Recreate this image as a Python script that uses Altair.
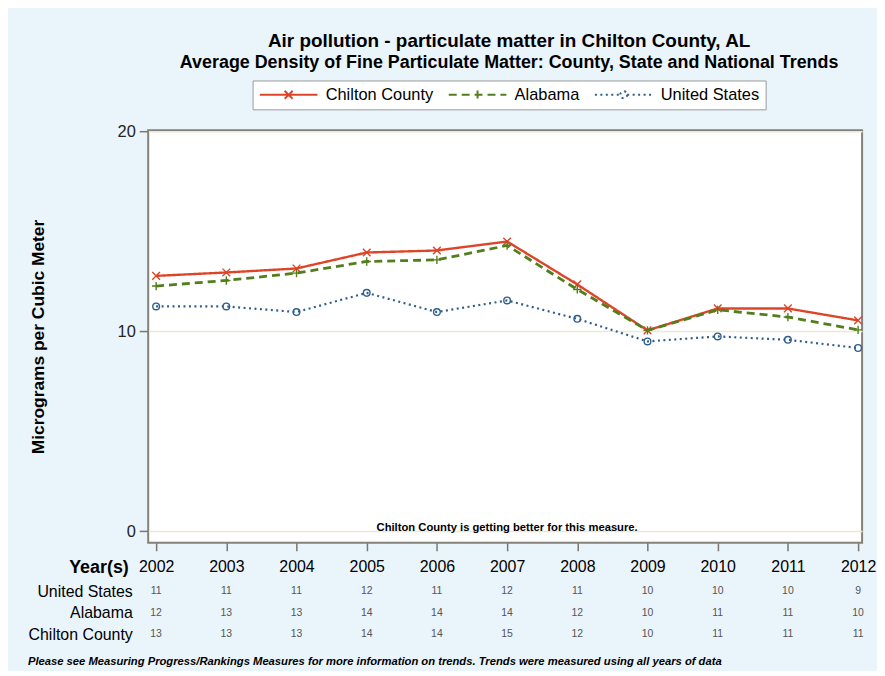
import altair as alt
import pandas as pd

years = list(range(2002, 2013))
chilton = [12.78, 12.95, 13.15, 13.95, 14.05, 14.5, 12.35, 10.05, 11.15, 11.15, 10.55]
alabama = [12.27, 12.55, 12.92, 13.5, 13.58, 14.3, 12.1, 10.05, 11.08, 10.72, 10.08]
united_states = [11.25, 11.25, 10.97, 11.93, 10.97, 11.55, 10.63, 9.5, 9.75, 9.58, 9.17]

table_us = [11, 11, 11, 12, 11, 12, 11, 10, 10, 10, 9]
table_al = [12, 13, 13, 14, 14, 14, 12, 10, 11, 11, 10]
table_ch = [13, 13, 13, 14, 14, 15, 12, 10, 11, 11, 11]

series_names = ["Chilton County", "Alabama", "United States"]
series_colors = ["#DE4528", "#527E1C", "#2F5E8C"]
series_dash = [[1, 0], [8, 5], [2, 3.5]]
series_widths = [2.4, 2.8, 2.2]
marker_paths = ["M-1,-1L1,1M-1,1L1,-1", "M-1,0L1,0M0,-1L0,1", "circle"]
marker_sizes = [60, 70, 45]
legend_paths = [
    "M-4.14,0L4.14,0M-0.57,-0.57L0.57,0.57M-0.57,0.57L0.57,-0.57",
    "M-4.14,0L4.14,0M0,-0.6L0,0.6",
    "M-4.14,0L-0.5,0M0.5,0L4.14,0M0.5,0A0.5,0.5 0 1,1 -0.5,0A0.5,0.5 0 1,1 0.5,0",
]

title_text = "Air pollution - particulate matter in Chilton County, AL"
subtitle_text = "Average Density of Fine Particulate Matter: County, State and National Trends"
note_text = "Chilton County is getting better for this measure."
footnote_text = ("Please see Measuring Progress/Rankings Measures for more information on trends. "
                 "Trends were measured using all years of data")
row_order = ["United States", "Alabama", "Chilton County"]

rows = []
for name, vals in zip(series_names, [chilton, alabama, united_states]):
    for yr, v in zip(years, vals):
        rows.append({"series": name, "year": yr, "value": v})
df = pd.DataFrame(rows)

trows = []
for name, vals in zip(row_order, [table_us, table_al, table_ch]):
    for yr, v in zip(years, vals):
        trows.append({"row": name, "year": yr, "val": str(v)})
tdf = pd.DataFrame(trows)

FONT = "Liberation Sans"
x_scale = alt.Scale(domain=[2001.887, 2012.057], nice=False, zero=False)
y_scale = alt.Scale(domain=[-0.58, 20.07], nice=False, zero=False)
color_scale = alt.Scale(domain=series_names, range=series_colors)
dash_scale = alt.Scale(domain=series_names, range=series_dash)
shape_scale = alt.Scale(domain=series_names, range=legend_paths)

base = alt.Chart(df)

x_axis = alt.Axis(
    values=years, format="d", title="Year(s)", titleFontSize=18, titleFontWeight="bold",
    titleX=-20, titleY=25, titleAlign="right", titleBaseline="middle", titleAngle=0,
    titleColor="black", labelFontSize=16, labelColor="black", labelPadding=8,
    tickSize=8, tickColor="#7a7670", tickWidth=1.5, domain=False, grid=False,
    labelFlush=False)
y_axis = alt.Axis(
    values=[0, 10, 20], labelFontSize=16.5, labelColor="#222", labelPadding=4,
    tickSize=9, tickColor="#7a7670", tickWidth=1.5, domain=False,
    grid=True, gridColor="#ECE8D4", gridWidth=1.5,
    title="Micrograms per Cubic Meter", titleFontSize=17.5, titleFontWeight="bold",
    titleColor="black", titlePadding=70)

layers = []
for i, (name, col, dash, sw, path, sz) in enumerate(
        zip(series_names, series_colors, series_dash, series_widths, marker_paths, marker_sizes)):
    sub = base.transform_filter(alt.datum.series == name)
    if i == 0:
        enc = dict(x=alt.X("year:Q", scale=x_scale, axis=x_axis),
                   y=alt.Y("value:Q", scale=y_scale, axis=y_axis))
    else:
        enc = dict(x=alt.X("year:Q"), y=alt.Y("value:Q"))
    layers.append(sub.mark_line(color=col, strokeDash=dash, strokeWidth=sw).encode(**enc))
    layers.append(sub.mark_point(shape=path, size=sz, filled=False, color=col,
                                 strokeWidth=1.4, opacity=1).encode(
        x=alt.X("year:Q"), y=alt.Y("value:Q")))

leg_kwargs = dict(title=None, orient="none", legendX=105, legendY=-50, direction="horizontal",
                  columns=3)
legend_layer = base.transform_filter("datum.value > 1000").mark_point(
    filled=False, strokeWidth=2, opacity=1).encode(
    color=alt.Color("series:N", scale=color_scale, legend=alt.Legend(**leg_kwargs)),
    shape=alt.Shape("series:N", scale=shape_scale, legend=alt.Legend(**leg_kwargs)),
    strokeDash=alt.StrokeDash("series:N", scale=dash_scale, legend=alt.Legend(**leg_kwargs)),
)

note = alt.Chart(pd.DataFrame({"note": [note_text]})).mark_text(
    fontSize=11.3, fontWeight="bold", baseline="alphabetic", dy=0, align="center", color="black"
).encode(x=alt.XDatum(2007), y=alt.YDatum(0), text="note:N")

top = alt.layer(*layers, legend_layer, note).properties(
    width=718, height=415,
    view=alt.ViewBackground(fill="white", stroke="#84807a", strokeWidth=2),
    title=alt.Title(title_text, subtitle=subtitle_text, fontSize=19, fontWeight="bold",
                    subtitleFontSize=18, subtitleFontWeight="bold", color="black",
                    subtitleColor="black", subtitlePadding=3, anchor="middle", offset=52,
                    dx=4),
)

table = alt.Chart(tdf).mark_text(fontSize=10.5, color="#555").encode(
    x=alt.X("year:Q", scale=x_scale, axis=None),
    y=alt.Y("row:N", sort=row_order, scale=alt.Scale(paddingInner=0, paddingOuter=0),
            axis=alt.Axis(title=None, domain=False, ticks=False, labelFontSize=16,
                          labelColor="black", labelPadding=16, grid=False)),
    text="val:N",
).properties(
    width=718, height=64.5,
    view=alt.ViewBackground(fill=None, stroke=None),
    title=alt.Title(footnote_text, orient="bottom", anchor="start", frame="bounds",
                    fontSize=11.3, fontStyle="italic", fontWeight="bold", color="black",
                    offset=11),
)

chart = alt.vconcat(top, table, spacing=3).properties(
    background="#EAF4FB",
    padding={"left": 20, "top": 21, "right": 0, "bottom": 2},
).configure(font=FONT).configure_view(stroke=None).configure_legend(
    symbolSize=196, symbolStrokeWidth=2, symbolOffset=22, symbolOpacity=1,
    labelFontSize=16.5, labelColor="black", labelOffset=29, columnPadding=11, padding=6,
    strokeColor="#9a9a9a", fillColor="white",
)

chart.save("out.html", embed_options={"renderer": "svg", "actions": False})
